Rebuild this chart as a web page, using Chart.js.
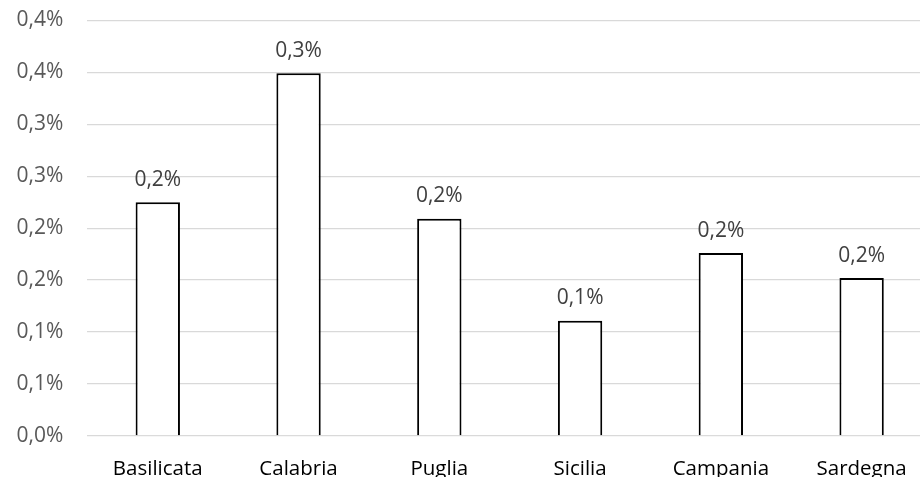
<!DOCTYPE html>
<html>
<head>
<meta charset="utf-8">
<script src="https://cdn.jsdelivr.net/npm/chart.js@4/dist/chart.umd.min.js"></script>
<style>
  html, body { margin: 0; padding: 0; background: #ffffff; overflow: hidden; }
  #wrap { position: relative; width: 932px; height: 477px; }
</style>
</head>
<body>
<div id="wrap"><canvas id="c" width="932" height="477"></canvas></div>
<script>
// Data (values in percent)
const categories = ['Basilicata', 'Calabria', 'Puglia', 'Sicilia', 'Campania', 'Sardegna'];
const values = [0.225, 0.349, 0.209, 0.111, 0.176, 0.152];
const valueLabels = ['0,2%', '0,3%', '0,2%', '0,1%', '0,2%', '0,2%'];
const yTickLabels = ['0,0%', '0,1%', '0,1%', '0,2%', '0,2%', '0,3%', '0,3%', '0,4%', '0,4%'];

const FONT = "'Open Sans', 'Liberation Sans', sans-serif";

const dataLabelPlugin = {
  id: 'dataLabels',
  afterDatasetsDraw(chart) {
    const ctx = chart.ctx;
    const meta = chart.getDatasetMeta(0);
    ctx.save();
    ctx.font = '21px ' + FONT;
    ctx.fillStyle = '#404040';
    ctx.textAlign = 'center';
    ctx.textBaseline = 'alphabetic';
    meta.data.forEach((bar, i) => {
      ctx.fillText(valueLabels[i], bar.x, bar.y - 16.5);
    });
    ctx.restore();
  }
};

new Chart(document.getElementById('c'), {
  type: 'bar',
  data: {
    labels: categories,
    datasets: [{
      data: values,
      backgroundColor: '#ffffff',
      borderColor: '#000000',
      borderWidth: 2,
      borderSkipped: 'bottom',
      categoryPercentage: 1.0,
      barPercentage: 0.315
    }]
  },
  options: {
    responsive: false,
    animation: false,
    events: [],
    layout: { padding: { top: 20.3, left: 0, right: 0, bottom: 0 } },
    plugins: {
      legend: { display: false },
      tooltip: { enabled: false },
      title: { display: false }
    },
    scales: {
      x: {
        grid: { display: false },
        border: { display: false },
        ticks: {
          color: '#000000',
          font: { family: FONT, size: 20.5 },
          padding: 13,
          maxRotation: 0,
          autoSkip: false
        },
        afterFit(scale) { scale.height = 41; scale.paddingLeft = 0; scale.paddingRight = 0; }
      },
      y: {
        min: 0,
        max: 0.4,
        grid: { color: '#d9d9d9', lineWidth: 1.3, drawTicks: false },
        border: { display: false },
        ticks: {
          stepSize: 0.05,
          color: '#595959',
          font: { family: FONT, size: 21 },
          padding: 24,
          callback: (v, i) => yTickLabels[i]
        },
        afterFit(scale) { scale.width = 87.4; scale.paddingTop = 0; scale.paddingBottom = 0; }
      }
    }
  },
  plugins: [dataLabelPlugin]
});
</script>
</body>
</html>
